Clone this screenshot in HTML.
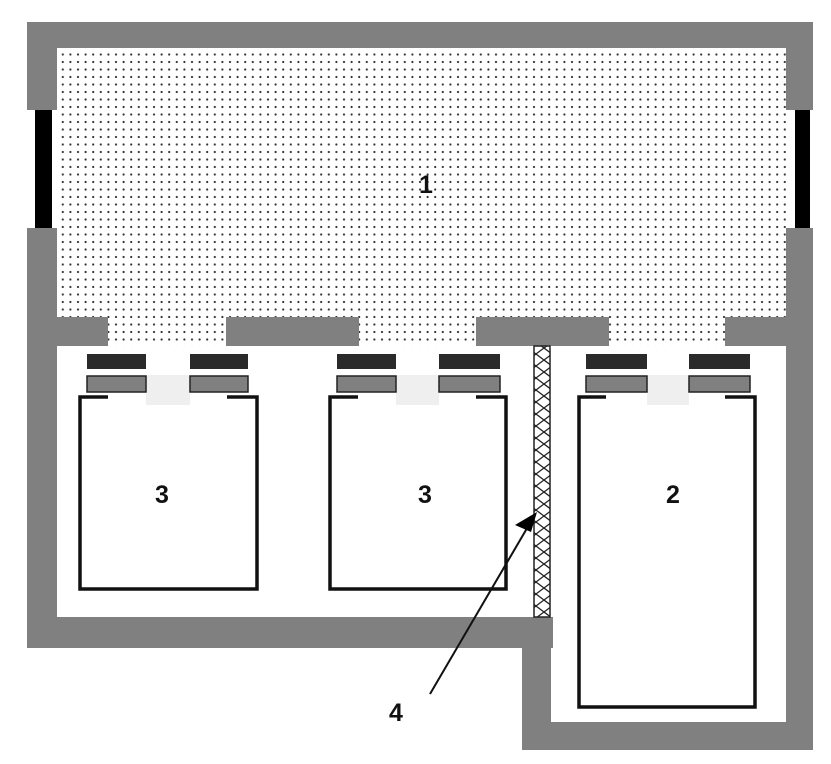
<!DOCTYPE html>
<html><head><meta charset="utf-8"><style>
html,body{margin:0;padding:0;background:#fff;}
</style></head><body>
<svg width="831" height="759" viewBox="0 0 831 759" xmlns="http://www.w3.org/2000/svg">
<defs>
<pattern id="dots" width="7.6" height="7.5" patternUnits="userSpaceOnUse">
<circle cx="2" cy="2" r="1.1" fill="#333"/>
</pattern>
<pattern id="hatch" width="16" height="12" patternUnits="userSpaceOnUse">
<path d="M0 0 L16 12 M16 0 L0 12" stroke="#222" stroke-width="1.3"/>
</pattern>
</defs>
<rect x="0" y="0" width="831" height="759" fill="#fff"/>
<!-- dotted room -->
<rect x="57" y="47" width="729" height="299" fill="url(#dots)"/>
<!-- outer walls -->
<g fill="#808080">
<rect x="27" y="22" width="786" height="26"/>
<rect x="27" y="22" width="30" height="88"/>
<rect x="27" y="228" width="30" height="420"/>
<rect x="786" y="22" width="27" height="88"/>
<rect x="786" y="228" width="27" height="522"/>
<rect x="57" y="317" width="51" height="29"/>
<rect x="226" y="317" width="133" height="29"/>
<rect x="476" y="317" width="133" height="29"/>
<rect x="725" y="317" width="61" height="29"/>
<rect x="27" y="617" width="526" height="31"/>
<rect x="522" y="617" width="29" height="133"/>
<rect x="522" y="722" width="291" height="28"/>
</g>
<rect x="35" y="110" width="17" height="118" fill="#000"/>
<rect x="795" y="110" width="15" height="118" fill="#000"/>
<!-- hatched partition -->
<rect x="534" y="346" width="16" height="271" fill="#fff" stroke="#222" stroke-width="1.5"/>
<rect x="534" y="346" width="16" height="271" fill="url(#hatch)"/>
<!-- light bands -->
<rect x="146" y="375" width="44" height="30" fill="#efefef"/>
<rect x="396" y="375" width="43" height="30" fill="#efefef"/>
<rect x="647" y="375" width="42" height="30" fill="#efefef"/>
<!-- bars -->
<g fill="#2a2a2a">
<rect x="87" y="354" width="59" height="15"/>
<rect x="190" y="354" width="58" height="15"/>
<rect x="337" y="354" width="59" height="15"/>
<rect x="439" y="354" width="61" height="15"/>
<rect x="586" y="354" width="61" height="15"/>
<rect x="689" y="354" width="61" height="15"/>
</g>
<g fill="#808080" stroke="#222" stroke-width="1.5">
<rect x="87" y="376" width="59" height="16"/>
<rect x="190" y="376" width="58" height="16"/>
<rect x="337" y="376" width="59" height="16"/>
<rect x="439" y="376" width="61" height="16"/>
<rect x="586" y="376" width="61" height="16"/>
<rect x="689" y="376" width="61" height="16"/>
</g>
<!-- boxes -->
<g fill="none" stroke="#111" stroke-width="3.5">
<path d="M108 397 H80 V589 H257 V397 H227"/>
<path d="M358 397 H330 V589 H506 V397 H476"/>
<path d="M606 397 H579 V707 H755 V397 H725"/>
</g>
<!-- arrow -->
<line x1="430" y1="694" x2="533" y2="518" stroke="#111" stroke-width="2"/>
<polygon points="537,512 531,532 515,525" fill="#000"/>
<g font-family="Liberation Sans, sans-serif" font-size="25" font-weight="bold" fill="#111" text-anchor="middle">
<text x="426" y="193">1</text>
<text x="162" y="503">3</text>
<text x="425" y="503">3</text>
<text x="673" y="503">2</text>
<text x="396" y="721">4</text>
</g>
</svg>
</body></html>
